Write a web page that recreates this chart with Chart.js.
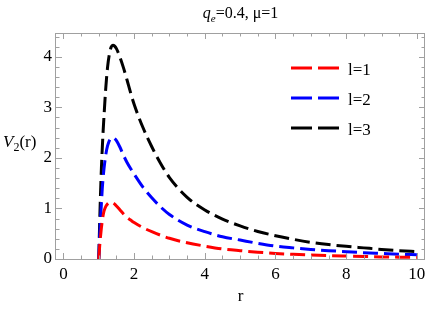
<!DOCTYPE html>
<html><head><meta charset="utf-8">
<script src="https://cdn.jsdelivr.net/npm/chart.js@4/dist/chart.umd.min.js"></script>
<style>html,body{margin:0;padding:0;background:#fff;overflow:hidden}</style>
</head><body>
<canvas id="c" width="431" height="312"></canvas>
<script>
// ---- data ----
const rValues = [1, 1.025, 1.05, 1.075, 1.1, 1.125, 1.15, 1.2, 1.25, 1.3, 1.35, 1.4, 1.45, 1.5, 1.6, 1.7, 1.8, 1.9, 2, 2.25, 2.5, 2.75, 3, 3.5, 4, 4.5, 5, 5.5, 6, 6.5, 7, 7.5, 8, 8.5, 9, 9.5, 10];
const seriesL1 = [0, 0.25, 0.45, 0.62, 0.76, 0.87, 0.95, 1.04, 1.09, 1.115, 1.12, 1.11, 1.085, 1.05, 0.97, 0.89, 0.82, 0.77, 0.72, 0.62, 0.54, 0.47, 0.41, 0.32, 0.255, 0.2, 0.165, 0.135, 0.11, 0.092, 0.078, 0.066, 0.057, 0.049, 0.042, 0.036, 0.032];
const seriesL2 = [0, 0.45, 0.8, 1.1, 1.4, 1.62, 1.8, 2.07, 2.24, 2.34, 2.39, 2.40, 2.38, 2.34, 2.21, 2.05, 1.91, 1.79, 1.68, 1.42, 1.21, 1.03, 0.88, 0.67, 0.54, 0.44, 0.375, 0.31, 0.255, 0.22, 0.19, 0.165, 0.145, 0.125, 0.11, 0.095, 0.085];
const seriesL3 = [0, 0.7, 1.3, 1.8, 2.2, 2.55, 2.85, 3.4, 3.8, 4.05, 4.19, 4.23, 4.21, 4.16, 3.99, 3.78, 3.54, 3.29, 3.06, 2.6, 2.22, 1.89, 1.61, 1.22, 0.97, 0.79, 0.655, 0.545, 0.46, 0.39, 0.33, 0.285, 0.25, 0.22, 0.19, 0.165, 0.145];
const seriesLabels = ['l=1', 'l=2', 'l=3'];
const seriesColors = ['#ff0000', '#0000ff', '#000000'];
const xTickValues = [0, 2, 4, 6, 8, 10];
const yTickValues = [0, 1, 2, 3, 4];

const SERIF = '"Liberation Serif", "DejaVu Serif", serif';
const FRAME = '#a0a0a0';

function drawRich(ctx, parts, x, y, size, align) {
  const fontFor = p => (p.it ? 'italic ' : '') + (p.sub ? Math.round(size * 0.7) : size) + 'px ' + SERIF;
  let w = 0;
  parts.forEach(p => { ctx.font = fontFor(p); w += ctx.measureText(p.t).width; });
  let cx = align === 'center' ? x - w / 2 : (align === 'right' ? x - w : x);
  ctx.textAlign = 'left';
  ctx.textBaseline = 'alphabetic';
  parts.forEach(p => {
    ctx.font = fontFor(p);
    ctx.fillText(p.t, cx, p.sub ? y + size * 0.22 : y);
    cx += ctx.measureText(p.t).width;
  });
}

const decorPlugin = {
  id: 'decor',
  afterDatasetsDraw(chart) {
    const { ctx, chartArea: a, scales: { x, y } } = chart;
    ctx.save();
    ctx.strokeStyle = FRAME;
    ctx.lineWidth = 1;
    ctx.strokeRect(a.left - 0.5, a.top + 0.5, a.right - a.left, a.bottom - a.top);
    ctx.beginPath();
    for (let i = 0; i <= 20; i++) {
      const v = i * 0.5;
      const px = Math.round(x.getPixelForValue(v)) + 0.5;
      const len = (i % 4 === 0) ? 6 : 3.5;
      ctx.moveTo(px, a.bottom); ctx.lineTo(px, a.bottom - len);
      ctx.moveTo(px, a.top); ctx.lineTo(px, a.top + len);
    }
    for (let i = 0; i <= 22; i++) {
      const v = i * 0.2;
      if (v > y.max) break;
      const py = Math.round(y.getPixelForValue(v)) + 0.5;
      const len = (i % 5 === 0) ? 6 : 3.5;
      ctx.moveTo(a.left, py); ctx.lineTo(a.left + len, py);
      ctx.moveTo(a.right, py); ctx.lineTo(a.right - len, py);
    }
    ctx.stroke();
    ctx.restore();
  },
  afterDraw(chart) {
    const { ctx, chartArea: a } = chart;
    ctx.save();
    ctx.fillStyle = '#000';
    const cx = (a.left + a.right) / 2;
    drawRich(ctx, [{ t: 'q', it: true }, { t: 'e', it: true, sub: true }, { t: '=0.4, \u03bc=1' }], cx, 18, 16, 'center');
    drawRich(ctx, [{ t: 'V', it: true }, { t: '2', sub: true }, { t: '(r)' }], 3, 147, 17, 'left');
    drawRich(ctx, [{ t: 'r' }], cx, 301, 17, 'center');
    const ys = [68, 98, 128];
    chart.data.datasets.forEach((ds, i) => {
      ctx.strokeStyle = ds.borderColor;
      ctx.lineWidth = 3;
      ctx.setLineDash([21, 6]);
      ctx.beginPath();
      ctx.moveTo(291, ys[i]); ctx.lineTo(339, ys[i]);
      ctx.stroke();
      ctx.setLineDash([]);
      ctx.font = '17px ' + SERIF;
      ctx.fillStyle = '#000';
      ctx.textBaseline = 'alphabetic';
      ctx.textAlign = 'left';
      ctx.fillText(ds.label, 348, ys[i] + 7);
    });
    ctx.restore();
  }
};

const mk = (s) => rValues.map((r, i) => ({ x: r, y: s[i] }));
const datasets = [seriesL1, seriesL2, seriesL3].map((s, i) => ({
  label: seriesLabels[i],
  data: mk(s),
  borderColor: seriesColors[i],
  backgroundColor: seriesColors[i],
  borderWidth: 3,
  borderDash: [15, 6],
  pointRadius: 0,
  fill: false,
  cubicInterpolationMode: 'monotone'
}));

new Chart(document.getElementById('c'), {
  type: 'line',
  data: { datasets },
  options: {
    responsive: false,
    devicePixelRatio: 1,
    animation: false,
    layout: { padding: { top: 33, right: 6, left: 0, bottom: 0 } },
    plugins: { legend: { display: false }, title: { display: false }, tooltip: { enabled: false } },
    scales: {
      x: {
        type: 'linear', min: -0.21, max: 10.23,
        afterBuildTicks: (sc) => { sc.ticks = xTickValues.map(v => ({ value: v })); },
        afterFit: (sc) => { sc.height = 53; },
        grid: { display: false, drawTicks: false },
        border: { display: false },
        ticks: { padding: 5, color: '#000', font: { family: SERIF, size: 17 }, maxRotation: 0 }
      },
      y: {
        type: 'linear', min: 0, max: 4.47,
        afterBuildTicks: (sc) => { sc.ticks = yTickValues.map(v => ({ value: v })); },
        afterFit: (sc) => { sc.width = 56; },
        grid: { display: false, drawTicks: false },
        border: { display: false },
        ticks: { padding: 4, color: '#000', font: { family: SERIF, size: 17 } }
      }
    }
  },
  plugins: [decorPlugin]
});
</script>
</body></html>
